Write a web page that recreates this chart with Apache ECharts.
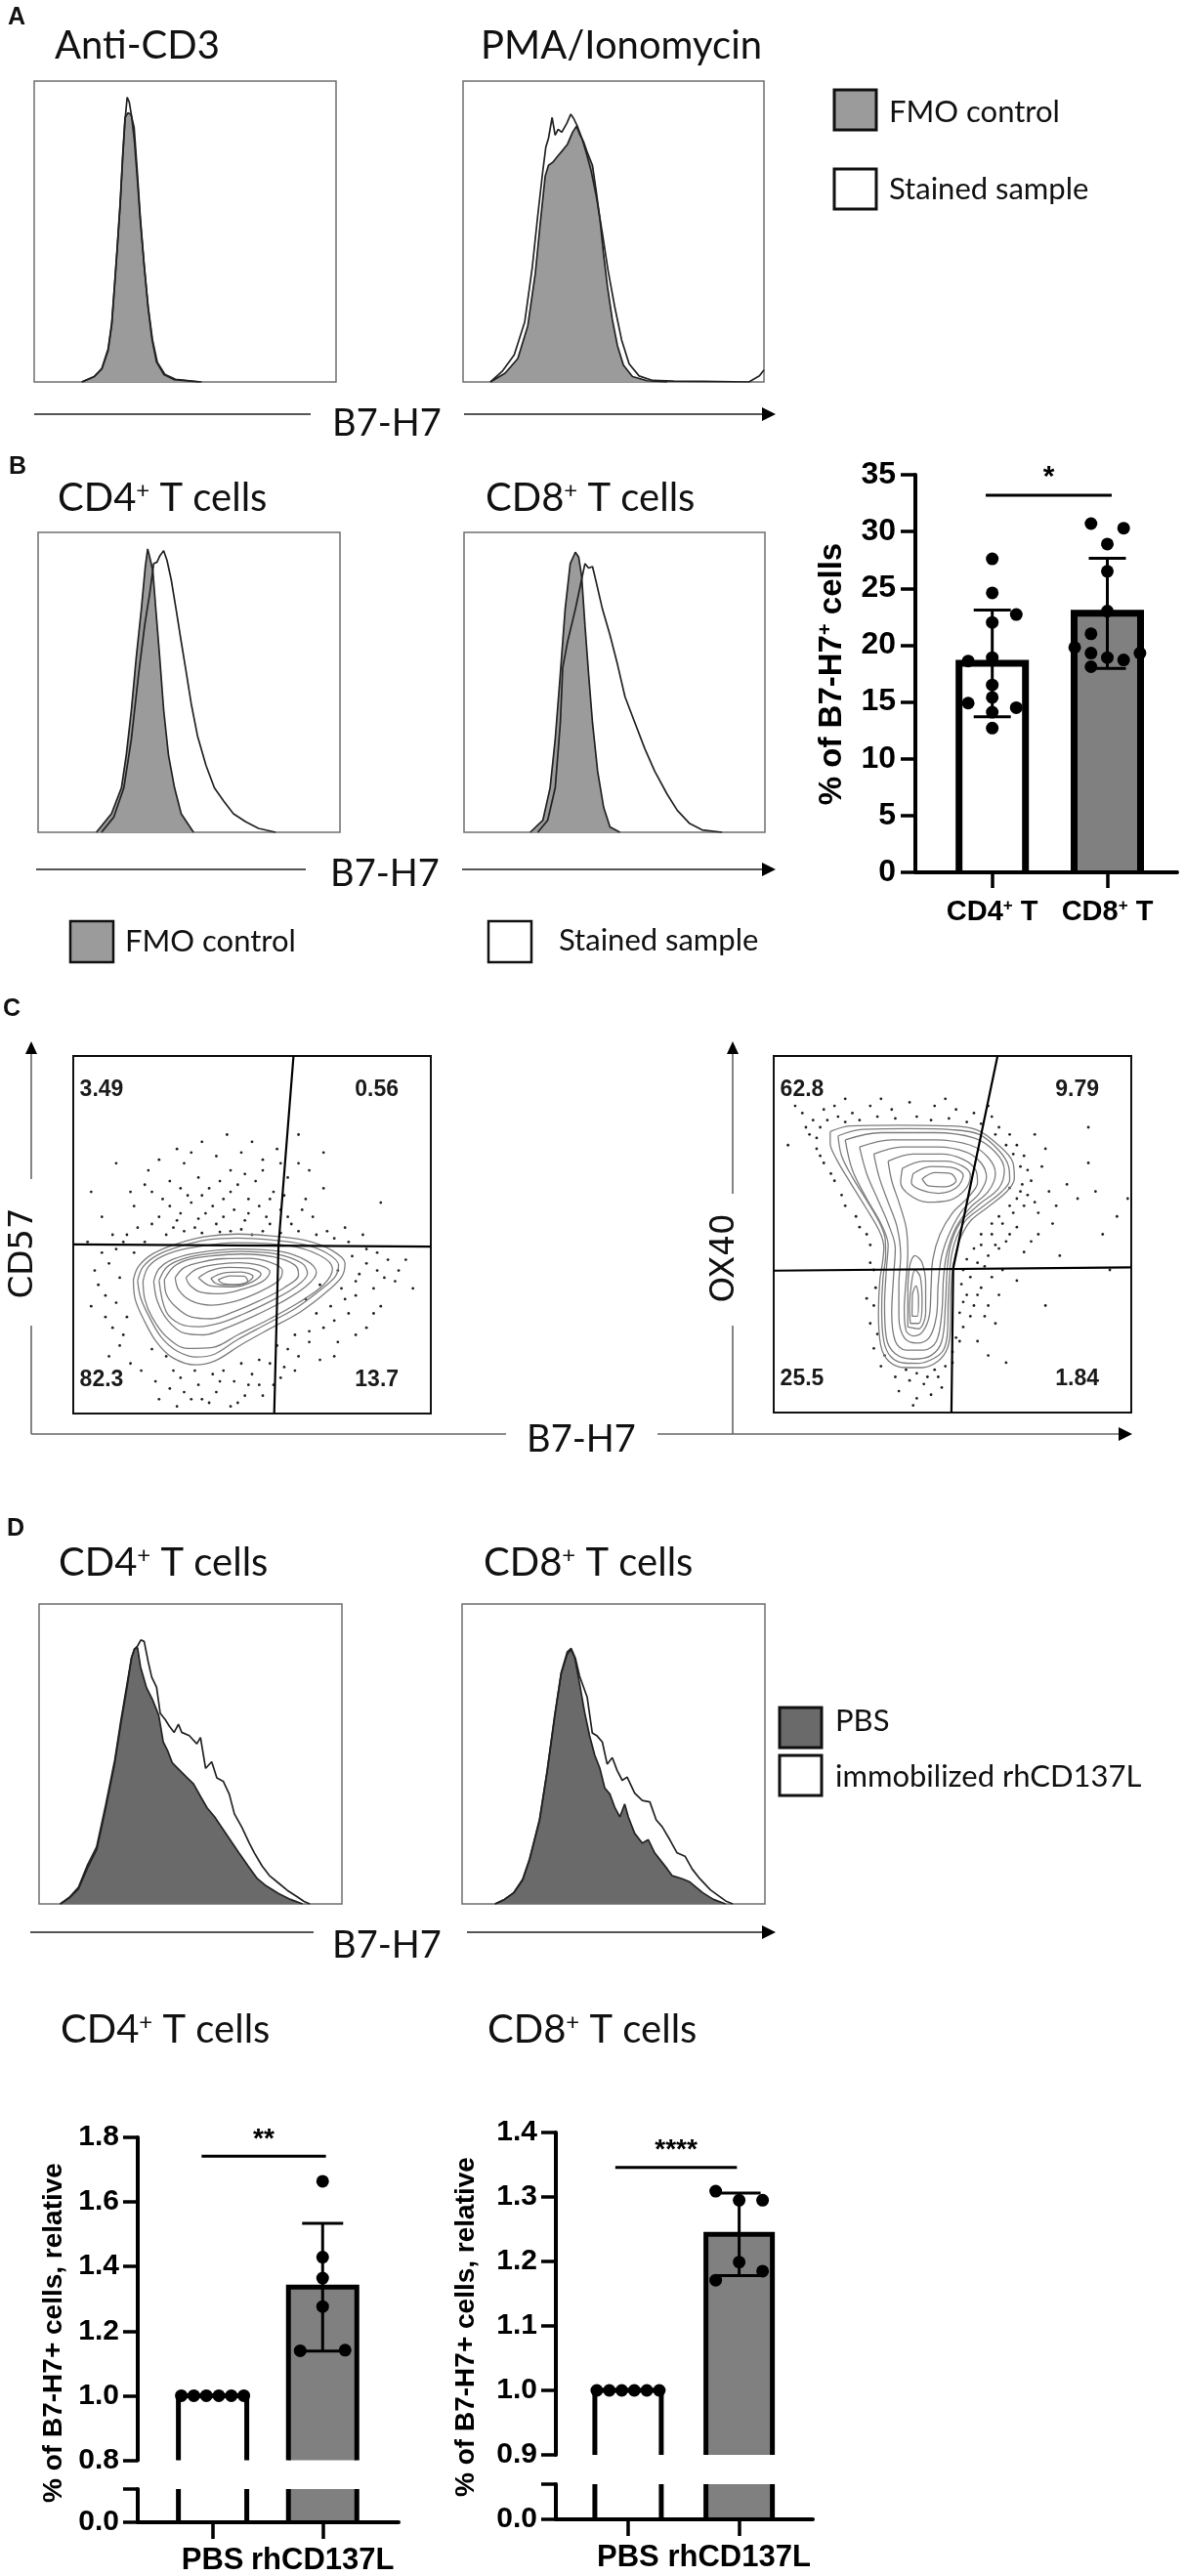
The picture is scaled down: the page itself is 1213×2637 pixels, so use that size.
<!DOCTYPE html>
<html><head><meta charset="utf-8">
<script src="https://cdn.jsdelivr.net/npm/echarts@6/dist/echarts.min.js"></script>
<style>html,body{margin:0;padding:0;background:#fff}#c{width:1213px;height:2637px}</style>
</head><body><div id="c"></div>
<script>
// ===================== DATA =====================
// Panel A histograms (x: B7-H7 channel, 0-100 ; y: % of max)
const a1FmoX = [15.8,19.9,22.4,24.5,25.7,26.5,27.5,28.5,29.3,30.1,31.1,32.1,33.1,34.1,35.1,36.4,37.7,39.0,40.5,43.0,46.3,54.6];
const a1FmoY = [0,1.8,4.5,11,19.7,30.5,44.6,59.7,74.9,87.9,89.5,88.8,84.6,70.6,55.4,39.2,25.1,14.3,6.7,2.4,0.8,0];
const a1StX = [15.8,19.9,22.4,24.5,25.7,26.5,27.5,28.5,29.3,30.1,30.8,31.5,32.3,33.2,34.2,35.2,36.5,37.8,39.2,40.8,43.3,46.8,55.5];
const a1StY = [0,1.8,4.3,10.5,19,30,44,59,74,87,94.6,93,88,80,67,53,38,24.5,14,6.5,2.5,0.9,0];
const a2FmoX = [9.1,14.0,18.2,21.5,24.0,25.6,27.3,28.4,29.8,31.4,33.1,34.7,36.4,37.7,38.9,40.0,41.4,43.0,44.3,45.5,46.7,48.0,49.6,51.3,53.3,56.3,61.2,67.9];
const a2FmoY = [0,2.9,7.8,18.6,35.9,52.2,68.4,72,73,75,77,79,83,85,82,80,76,72,63,54,42.4,31.6,20.8,12.1,5.6,1.8,0.4,0];
const a2StX = [9.1,13.0,17.0,20.5,23.0,24.8,26.5,27.5,28.4,29.6,30.6,31.6,32.8,34.5,35.8,36.8,38.0,39.5,41.0,42.6,44.4,46.2,48.2,50.4,52.7,55.2,58.5,63,70,80,95,98.5,100];
const a2StY = [0,3.5,9,20,38,55,70,78,81,87.9,82,84,83,86,89,87.5,85,81,76,70,61,50,37,25,14,6,2,0.5,0.3,0.2,0,2,4];
// Panel B histograms
const b1FmoX = [19.3,24.3,27.6,29.2,30.9,32.5,34.2,35.5,36.3,37.1,38.0,39.0,40.3,41.6,43.2,45.2,47.4,51.5];
const b1FmoY = [0,6.2,14.8,25.7,40.8,58.2,74.4,88.5,94.5,91.2,87.4,74.4,58.2,40.8,25.7,14.8,6.2,0];
const b1StX = [21.0,25.1,28.4,30.9,33.3,35.3,37.0,38.3,39.4,40.4,41.6,42.7,44.1,45.7,47.4,49.0,50.7,52.8,55.6,58.4,61.4,64.7,68.8,73.0,78.7];
const b1StY = [0,5.1,14.8,31.1,52.8,69.0,79.8,89.6,90.1,92.3,93.9,90.7,84.2,74.4,63.6,53.8,43.0,32.2,22.4,14.8,10.5,6.2,3.5,1.3,0];
const b2FmoX = [22.0,26.2,28.6,30.3,32.0,33.6,35.3,37.0,38.1,39.1,40.2,41.4,42.7,44.4,46.4,48.5,51.8];
const b2FmoY = [0,4.0,14.8,31.1,52.8,74.4,89.6,93.4,91.8,85.3,69.0,52.8,36.5,20.3,8.3,1.8,0];
const b2StX = [24.5,27.8,30.3,32.0,32.8,34.4,37.0,38.6,40.2,41.4,42.7,44.0,46.0,48.5,51.0,53.5,56.8,60.1,63.4,67.5,70.9,75.0,79.1,85.8];
const b2StY = [0,4.0,14.8,36.5,54.9,63.5,74.4,82.0,89.6,88.1,88.6,83.1,74.4,65.8,56.0,45.2,36.5,27.8,20.3,12.7,7.3,2.9,0.8,0];
// Panel D histograms
const d1PbsX = [7,10,13,16,19,22,25,27,29,30.5,31.5,32.5,33.5,35.5,37.5,39.5,41,42.5,44,46,49,51,53.5,55.5,58,60,63,66,69,72,75,79,83,87];
const d1PbsY = [0,2,5,12,18,32,47,60,72,82,85,85.5,79,72,68,63,54,51,47,45,42,40,35.5,32,29,26,21.5,17,12.7,8.5,6,3.5,1.5,0];
const d1RhX = [7,10,13,16,19,22,25,27,29,30.5,31.5,32.5,33.6,34.7,36.0,37.2,38.8,40.0,41.7,43.0,44.6,46.0,47.1,49.6,52.1,53.3,55.0,57.0,58.7,60.8,62.8,64.5,66.9,69.4,71.1,73.6,76.0,79,82,85,87.5,89.4];
const d1RhY = [0,2.2,5.5,13,19,33,48,61,73,82,85,86,88,87.5,80.9,75.6,72.3,63.6,61.4,59.3,57.2,59.9,57.2,56.1,53.4,55.5,45.2,47.4,42.0,40.9,36.6,30.0,25.7,20.3,17.0,12.7,9.5,7,4.5,2.5,0.8,0];
const d2PbsX = [10.9,14,17.1,20,22.3,25.6,28.1,30.6,32.7,34.7,36.0,37.2,38.8,40.5,42.1,43.8,45.5,47.1,48.8,50.4,52.1,53.7,54.9,57.0,59.5,61.5,63.6,66.1,67.8,69.4,72.7,75.2,79.5,83,87];
const d2PbsY = [0,1.5,3.7,8,14.9,27.9,44.1,62.6,76.7,83.2,84.8,82.1,73.5,63.7,56.1,49.6,45.2,38.7,36.6,32.2,29.0,33.3,29.0,23.5,20.3,21.4,17.0,13.8,11.6,9.4,8.4,7.3,3.7,1.5,0];
const d2RhX = [10.9,14,17.1,20,22.3,25.6,28.1,30.6,32.7,34.7,36.0,37.4,38.8,41.3,43,44.6,46.3,47.9,49.6,51.2,52.9,54.5,57,59.5,62,64.1,66.1,68.6,71,73.6,76,78.5,82,85,87,89.4];
const d2RhY = [0,1.5,3.8,8.2,15,28.3,44.5,63,77,84,85.2,82,76,69,57,56,54,46.6,48.8,44.5,41.2,42.3,36.9,34.5,34,28,25.7,21.4,17,15.9,11.6,8.4,4.7,2.5,1,0];

// Panel B bar chart (% of B7-H7+ cells)
const barCatsB = ['CD4', 'CD8'];
const meanB = [18.4, 22.8];
const sdB = [4.7, 4.85];
const cd4Dots = [27.6,24.6,22.7,22.0,18.6,18.9,16.5,15.4,14.9,14.5,14.1,12.7];
const cd4Slot = [0,0,1,0,-1,0,0,0,-1,1,0,0];
const cd8Dots = [30.7,30.3,28.9,26.5,23.0,21.0,19.8,19.3,19.3,18.9,18.7,18.1];
const cd8Slot = [-1,1,0,0,0,-1,-2,-1,2,0,1,-1];
const yTicksB = [0, 35, 5];

// Panel C quadrant percentages (UL, UR, LL, LR)
const quadC1 = ['3.49', '0.56', '82.3', '13.7'];
const quadC2 = ['62.8', '9.79', '25.5', '1.84'];
// Quadrant gates (x,y in plot units 0-100)
const gateC1H = [[0,47.3],[100,46.7]];
const gateC1V = [[61.6,100],[57.4,47],[56.2,0]];
const gateC2H = [[0,39.8],[100,40.7]];
const gateC2V = [[62.6,100],[50.2,40.5],[49.7,0]];
// Contour rings, CD57 vs B7-H7
const c1Ring1 = [[16.8,37.4],[18.2,41.1],[22.3,44.7],[28.7,47.4],[36.9,49.5],[46.0,50.2],[55.1,49.7],[65.1,48.4],[72.4,45.6],[76.0,42.0],[75.1,38.3],[70.6,33.8],[63.3,28.3],[55.1,23.8],[46.9,19.2],[39.6,14.7],[34.2,13.6],[27.8,15.6],[23.2,20.1],[19.6,26.5],[17.3,32.0]];
const c1Ring1b = [[18,37.2],[19.5,41],[23.5,44.3],[30,46.8],[37.5,48.6],[46,49.1],[55,48.6],[64.5,47.3],[71,44.8],[74.2,41.5],[73.2,38.2],[68.8,34.3],[62,29.3],[54,25],[46,20.7],[39.5,16.6],[34.5,15.8],[29,17.5],[24.5,21.5],[21,27.5],[18.8,32.5]];
const c1Ring2 = [[19.5,37],[21,41],[25,44],[32,46.2],[46,47.8],[60,47],[69,44.2],[72.5,40.5],[70,36],[63,31],[55,26.5],[46,22],[39,18.5],[32,18.2],[26,21.5],[22,27],[20,32]];
const c1Ring3 = [[22.5,37],[24,40.5],[28,43.2],[35,45],[46,46],[58,45.3],[65.5,42.6],[68,39.5],[65,35.5],[58,31],[50,27],[43,24],[36.5,22],[31,22.5],[26.5,26],[23.5,31.5]];
const c1Ring3b = [[24,37.2],[26,40.8],[30,43],[36.5,44.5],[46.5,45.3],[57,44.6],[64,42],[65.5,39.2],[62,35.3],[55,31.3],[47.5,27.8],[41,25.3],[35,24.3],[30,25],[26,28.5]];
const c1Ring4 = [[25.5,37.5],[28,41],[32,43],[38,44],[47,44.6],[56,43.8],[62,41.5],[63,38.8],[59,35.2],[52,31.5],[45,28.5],[38.5,26.5],[33,27],[28.5,30],[26,33.5]];
const c1Ring5 = [[28.5,38],[31,40.8],[36,42.4],[42,43.3],[49,43.4],[55,42.3],[58.5,40],[57.5,37.2],[52,34],[45,31.3],[38.5,30.3],[33,31.5],[29.5,34.5]];
const c1Ring6 = [[31.5,38],[34.5,40.4],[40,41.7],[46,42.2],[52,41.5],[55,39.6],[53,37],[47,34.7],[41,33.5],[35.5,34],[32.5,36]];
const c1Ring7 = [[35,38],[38.5,40],[43.5,40.9],[49,40.7],[52.5,39],[50,36.8],[44.5,35.4],[38.5,35.7]];
const c1Ring8 = [[38.5,37.8],[42,39.3],[47,39.6],[50.3,38.3],[48,36.4],[43,35.8],[39.8,36.4]];
const c1Ring9 = [[40.5,37.4],[44,38.5],[47.8,38.4],[48.8,37.1],[45.5,36.1],[41.8,36.4]];
// Contour rings, OX40 vs B7-H7
const c2Ring1 = [[15.8,78.8],[21.3,80.4],[34.9,80.6],[48.6,80.4],[56.8,79.3],[63.2,74.7],[66.9,70.1],[67.3,65.6],[65.1,61.9],[59.6,57.4],[55.0,53.7],[52.3,49.1],[50.9,44.6],[50.0,40.0],[49.5,32.7],[49.4,23.6],[48.6,18.1],[45.9,14.4],[41.3,12.6],[36.8,12.6],[32.2,14.4],[29.9,19.0],[29.3,28.1],[29.7,37.3],[30.4,41.8],[30.8,46.4],[29.5,51.0],[25.8,57.4],[21.3,64.7],[17.6,71.0],[15.8,75.6]];
const c2Ring1b = [[18,77.6],[25,79.4],[38,79.6],[50,79.3],[57.5,78],[63,73.5],[65.7,69],[66,65.2],[63.8,62],[58.5,57.8],[53.8,54],[51.2,49.3],[49.8,44.5],[49.2,39],[48.8,31],[48.6,22.5],[47.5,17.6],[44.8,15.2],[40.5,13.8],[36.5,13.9],[32.8,15.6],[30.8,20],[30.2,29],[30.6,38],[31.3,44],[31.2,48.5],[29.7,53],[26,59.5],[22,66],[19,72]];
const c2Ring2 = [[20,76.5],[30,78.5],[45,78.5],[56,77],[62,73],[64.5,68],[63,63],[57,58],[52,53],[49.5,47],[48.5,40],[48,30],[47,20],[44,16],[39,15],[34,16.5],[31.5,21],[31,30],[31.5,40],[32,47],[30,53],[26,60],[22,68]];
const c2Ring3 = [[24,74.5],[33,76.5],[45,76.5],[55,75],[60,71.5],[62,67],[60,62],[55,57.5],[51,52],[48.5,45],[47.5,38],[47,28],[45.5,20],[42,17.5],[37,17.5],[34,20],[33,28],[33.5,38],[34,46],[32,53],[29,60],[26,67]];
const c2Ring4 = [[28,72.5],[36,74.5],[46,74.5],[54,73],[58,70],[59.5,66],[57.5,61.5],[53,57],[49.5,51],[47,44],[46,36],[45.5,27],[43.5,21],[40,19.5],[36.5,21],[35,27],[35,36],[35.5,44],[34.5,52],[32,59],[29.5,66]];
const c2Ring5 = [[32,70.5],[39,72.5],[47,72.5],[53,71],[56.5,68],[57,64.5],[54.5,60.5],[50,56],[46.5,50],[44.5,43],[44,35],[43.5,27],[41.5,22.5],[39,21.5],[37,23],[36.5,29],[37,37],[37.5,45],[37,52],[35,59],[33,65]];
const c2Ring6a = [[36,68.5],[42,70.5],[48,70.5],[53,69],[55,66.5],[53.5,62.5],[49,59.5],[43,59],[38,61],[35.5,64.5]];
const c2Ring6b = [[37.5,24],[40.5,23.5],[42.5,28],[42.5,36],[41.5,42],[39.5,44],[38,41],[37.5,33]];
const c2Ring7a = [[39,67],[44,69],[49.5,68.8],[53,66.5],[51,63],[46,61.5],[41,62.5],[38.5,64.5]];
const c2Ring7b = [[38.2,25],[40.5,25],[41.5,31],[41,38],[39.5,40],[38.5,36],[38,30]];
const c2Ring8a = [[41.5,65.5],[45,67.3],[49.5,67],[51,65],[48,63.3],[43.5,63.5]];
const c2Ring8b = [[38.7,27],[40.2,27],[40.5,32],[39.8,35.5],[38.8,33]];
// Outlying events (dots)
const c1Dots = [[36,76],[29,74],[24,71],[31,70],[40,72],[47,73],[53,71],[57,74],[44,68],[35,66],[27,65],[20,64],[38,63],[46,64],[51,65],[56,62],[60,66],[63,70],[65,60],[42,60],[33,59],[25,60],[17,58],[30,56],[37,56],[45,57],[52,58],[58,57],[48,54],[40,53],[34,52],[28,52],[22,53],[55,53],[61,53],[67,55],[71,51],[44,51],[15,50],[50,50],[76,52],[86,59],[70,73],[63,78],[5,62],[12,70],[78,44],[82,42],[80,39],[85,40],[88,43],[75,35],[79,33],[84,35],[72,30],[77,28],[70,24],[74,20],[66,20],[69,15],[82,24],[86,30],[90,37],[93,43],[10,42],[13,38],[7,36],[12,31],[9,27],[15,27],[5,30],[14,22],[10,16],[17,45],[12,46],[30,10],[35,8],[40,6],[45,9],[50,11],[55,14],[38,3],[44,2],[33,4],[28,12],[48,5],[52,8],[58,10],[60,18],[42,12],[26,16],[22,18],[62,12],
  [26,50],[31,51],[36,50.5],[41,50.8],[47,51.5],[53,51],[58,50.5],[63,51],[68,50],[73,49],[24,55],[29,54],[35,54.5],[42,55],[49,56],[54,55],[60,55],[64,57],[27,58],[32,61],[39,58],[44,62],[49,60],[55,60],[59,61],[36,61],[30,63],[41,65],[48,67],[53,68],[22,62],[18,52],[20,48],[14,48],[11,50],[8,45],[6,40],[9,33],[11,24],[13,19],[16,14],[19,12],[23,9],[27,7],[31,6],[36,4],[41,9],[46,3],[49,8],[53,5],[56,8],[59,13],[63,16],[66,23],[68,28],[73,26],[76,32],[79,37],[82,46],[85,45],[87,38],[91,40],[84,28],[79,22],[73,16],[24,4],[29,2],[34,12],[39,11],[47,14],[52,15],[57,19],[62,22],[65,32],[69,36],[74,40],[77,48],[81,50],[8,55],[4,48],[95,35],[70,63],[66,68],[58,70],[50,76],[43,78],[33,73],[21,68],[16,62]];
const c2Dots = [[8,84],[11,82],[13,80],[10,78],[14,85],[18,83],[22,84],[27,86],[33,85],[38,87],[45,86],[51,85],[56,84],[61,83],[63,80],[66,78],[68,75],[70,72],[71,68],[72,65],[69,62],[70,58],[67,56],[64,53],[66,50],[61,50],[58,47],[60,44],[63,46],[57,42],[55,38],[58,35],[54,33],[56,30],[52,28],[60,30],[64,40],[75,69],[77,62],[74,56],[78,53],[85,60],[88,70],[92,50],[96,55],[99,60],[80,44],[52,20],[50,14],[46,10],[42,8],[38,9],[34,10],[44,5],[40,4],[30,13],[28,18],[27,25],[26,32],[28,40],[27,47],[24,52],[20,58],[17,65],[14,70],[12,74],[68,37],[62,25],[60,16],[72,48],[76,30],
  [9,80],[12,77],[15,82],[17,86],[20,81.5],[24,82],[29,83],[34,82.5],[40,83],[44,82],[49,82.5],[54,81.5],[58,81],[62,78],[65,75],[67,72.5],[69,69],[69.5,64],[68,60],[66,58],[63,55],[61,53],[58,50],[56,46],[54,43],[53,40],[52.5,36],[53,31],[55,27],[53,24],[51,21],[50,17],[48,13],[45,12],[43,10],[40,11],[37,12],[35,6],[39,2],[47,7],[31,16],[29,22],[28,30],[28.5,35],[27,42],[26,50],[23,55],[19,61],[16,67],[13,72],[66,63],[71,61],[73,59],[68,52],[65,48],[62,47],[59,41],[61,38],[57,33],[63,33],[59,27],[70,45],[74,50],[79,58],[82,64],[76,74],[73,78],[60,86],[48,88],[30,88],[20,88],[6,86],[4,75],[90,62],[94,40],[88,80],[57,20],[65,14]];

// Panel D bar charts (relative % of B7-H7+ cells)
const catsD = ['PBS', 'rhCD137L'];
const d1Means = [1.0, 1.336];
const d1Sd = [0, 0.198];
const d1PbsDots = [1,1,1,1,1,1];
const d1RhDots = [1.664,1.429,1.364,1.276,1.139,1.141];
const d1RhSlot = [0,0,0,0,-1,1];
const d2Means = [1.0, 1.242];
const d2Sd = [0, 0.064];
const d2PbsDots = [1,1,1,1,1,1];
const d2RhDots = [1.309,1.295,1.295,1.199,1.185,1.171];
const d2RhSlot = [-1,0,1,0,1,-1];
const pbsSlot = [-2.5,-1.5,-0.5,0.5,1.5,2.5];

// ===================== LAYOUT / STYLE =====================
const LATO = 'Lato, "Open Sans", sans-serif';
const ARIAL = '"Liberation Sans", Arial, sans-serif';
const grids = [
  {left:35, top:83, width:309, height:308},    //0 A1
  {left:474, top:83, width:308, height:308},   //1 A2
  {left:39, top:545, width:309, height:307},   //2 B1
  {left:475, top:545, width:308, height:307},  //3 B2
  {left:937, top:486, width:268, height:407},  //4 B bar
  {left:75, top:1081, width:366, height:366},  //5 C1
  {left:792, top:1081, width:366, height:365}, //6 C2
  {left:40, top:1642, width:310, height:307},  //7 D1 hist
  {left:473, top:1642, width:310, height:307}, //8 D2 hist
  {left:141, top:2188, width:267, height:330.5}, //9 D1 upper
  {left:141, top:2548, width:267, height:37},    //10 D1 lower
  {left:569, top:2183, width:263, height:330},   //11 D2 upper
  {left:569, top:2543, width:263, height:36}     //12 D2 lower
];
const gridOpts = grids.map((g, i) => {
  const o = Object.assign({containLabel:false}, g);
  if (i <= 3 || i === 7 || i === 8) { o.show = true; o.borderColor = '#6f6f6f'; o.borderWidth = 1.5; }
  else if (i === 5 || i === 6) { o.show = true; o.borderColor = '#111'; o.borderWidth = 2; }
  return o;
});
const xAxes = [], yAxes = [];
function plainAxes(gi, xmin, xmax, ymin, ymax) {
  xAxes.push({gridIndex:gi, type:'value', min:xmin, max:xmax, show:false});
  yAxes.push({gridIndex:gi, type:'value', min:ymin, max:ymax, show:false});
}
[0,1,2,3].forEach(i => plainAxes(i, 0, 100, 0, 100));
// 4: B bar chart
const bXmin = 0.332, bXmax = 2.607;
xAxes.push({gridIndex:4, type:'value', min:bXmin, max:bXmax, z:10,
  axisLine:{show:true, lineStyle:{color:'#000', width:4}},
  axisTick:{show:true, customValues:[1,2], length:16, lineStyle:{color:'#000', width:3.5}},
  axisLabel:{show:true, customValues:[1,2], margin:26, color:'#000',
    formatter: v => '{b|' + barCatsB[Math.round(v)-1] + '}{s|+}{b| T}',
    rich:{b:{fontSize:29, fontWeight:'bold', fontFamily:ARIAL, color:'#000'}, s:{fontSize:17, fontWeight:'bold', fontFamily:ARIAL, color:'#000', verticalAlign:'top'}}},
  splitLine:{show:false}});
yAxes.push({gridIndex:4, type:'value', min:yTicksB[0], max:yTicksB[1], interval:yTicksB[2], z:10,
  axisLine:{show:true, lineStyle:{color:'#000', width:4}},
  axisTick:{show:true, length:15, lineStyle:{color:'#000', width:3.5}},
  axisLabel:{show:true, margin:20, fontSize:32, fontWeight:'bold', fontFamily:ARIAL, color:'#000'},
  splitLine:{show:false}});
[5,6,7,8].forEach(i => plainAxes(i, 0, 100, 0, 100));
// D bar charts
function dAxes(giU, giL, xmin, xmax, ymin, ymax, yint, lowMax) {
  xAxes.push({gridIndex:giU, type:'value', min:xmin, max:xmax, show:false});
  yAxes.push({gridIndex:giU, type:'value', min:ymin, max:ymax, interval:yint, z:10,
    axisLine:{show:true, lineStyle:{color:'#000', width:4}},
    axisTick:{show:true, length:15, lineStyle:{color:'#000', width:3.5}},
    axisLabel:{show:true, margin:19, fontSize:30, fontWeight:'bold', fontFamily:ARIAL, color:'#000', formatter: v => v.toFixed(1)},
    splitLine:{show:false}});
  xAxes.push({gridIndex:giL, type:'value', min:xmin, max:xmax, z:10,
    axisLine:{show:true, lineStyle:{color:'#000', width:4}},
    axisTick:{show:true, customValues:[1,2], length:17, lineStyle:{color:'#000', width:3.5}},
    axisLabel:{show:true, customValues:[1,2], margin:24, fontSize:31, fontWeight:'bold', fontFamily:ARIAL, color:'#000',
      formatter: v => catsD[Math.round(v)-1]},
    splitLine:{show:false}});
  yAxes.push({gridIndex:giL, type:'value', min:0, max:lowMax, z:10,
    axisLine:{show:true, lineStyle:{color:'#000', width:4}},
    axisTick:{show:true, customValues:[0, lowMax], length:15, lineStyle:{color:'#000', width:3.5}},
    axisLabel:{show:true, customValues:[0], margin:19, fontSize:30, fontWeight:'bold', fontFamily:ARIAL, color:'#000', formatter: () => '0.0'},
    splitLine:{show:false}});
}
const d1Xmin = 0.32, d1Xmax = 2.69, d2Xmin = 0.35, d2Xmax = 2.663;
dAxes(9, 10, d1Xmin, d1Xmax, 0.8, 1.8, 0.2, 0.11);
dAxes(11, 12, d2Xmin, d2Xmax, 0.9, 1.4, 0.1, 0.11);

// ===================== SERIES =====================
const series = [];
const zip = (xs, ys) => xs.map((x, i) => [x, ys[i]]);
function hist(gi, xs, ys, fill, z) {
  const s = {type:'line', xAxisIndex:gi, yAxisIndex:gi, data:zip(xs, ys), symbol:'none', silent:true, z:z,
    lineStyle:{color:'#222', width:1.7}};
  if (fill) s.areaStyle = {color:fill, opacity:1, origin:'start'};
  series.push(s);
}
const GREY = '#9b9b9b', DARK = '#6a6a6a';
hist(0, a1FmoX, a1FmoY, GREY, 2); hist(0, a1StX, a1StY, null, 3);
hist(1, a2FmoX, a2FmoY, GREY, 2); hist(1, a2StX, a2StY, null, 3);
hist(2, b1FmoX, b1FmoY, GREY, 2); hist(2, b1StX, b1StY, null, 3);
hist(3, b2FmoX, b2FmoY, GREY, 2); hist(3, b2StX, b2StY, null, 3);
hist(7, d1PbsX, d1PbsY, DARK, 2); hist(7, d1RhX, d1RhY, null, 3);
hist(8, d2PbsX, d2PbsY, DARK, 2); hist(8, d2RhX, d2RhY, null, 3);

// Bars (custom, so clipped broken-axis bars stay open at the break)
function bars(gi, means, fills, halfW, lw) {
  series.push({type:'custom', xAxisIndex:gi, yAxisIndex:gi, silent:true, z:3,
    data: means.map((m, i) => [i + 1, m, i]),
    renderItem(params, api) {
      const cs = params.coordSys;
      const i = api.value(2);
      const p = api.coord([api.value(0), api.value(1)]);
      const bottom = cs.y + cs.height;
      if (p[1] >= bottom) return null;
      const top = Math.max(p[1], cs.y);
      const L = p[0] - halfW, R = p[0] + halfW;
      const ch = [{type:'rect', shape:{x:L, y:top, width:R - L, height:bottom - top}, style:{fill:fills[i]}}];
      if (p[1] >= cs.y - 0.5) {
        ch.push({type:'polyline', shape:{points:[[L, bottom], [L, top], [R, top], [R, bottom]]}, style:{stroke:'#000', lineWidth:lw, fill:null, lineJoin:'miter'}});
      } else {
        ch.push({type:'line', shape:{x1:L, y1:bottom, x2:L, y2:top}, style:{stroke:'#000', lineWidth:lw}});
        ch.push({type:'line', shape:{x1:R, y1:bottom, x2:R, y2:top}, style:{stroke:'#000', lineWidth:lw}});
      }
      return {type:'group', children:ch};
    }});
}
function errs(gi, means, sds, capHalf) {
  series.push({type:'custom', xAxisIndex:gi, yAxisIndex:gi, silent:true, z:4,
    data: means.map((m, i) => [i + 1, m, sds[i]]).filter(d => d[2] > 0),
    renderItem(params, api) {
      const x = api.value(0), m = api.value(1), s = api.value(2);
      const a = api.coord([x, m + s]), b = api.coord([x, m - s]);
      const st = {stroke:'#000', lineWidth:3};
      return {type:'group', children:[
        {type:'line', shape:{x1:a[0], y1:a[1], x2:b[0], y2:b[1]}, style:st},
        {type:'line', shape:{x1:a[0] - capHalf, y1:a[1], x2:a[0] + capHalf, y2:a[1]}, style:st},
        {type:'line', shape:{x1:b[0] - capHalf, y1:b[1], x2:b[0] + capHalf, y2:b[1]}, style:st}]};
    }});
}
function dots(gi, xc, vals, slots, stepPx, pxPerUnit, size) {
  series.push({type:'scatter', xAxisIndex:gi, yAxisIndex:gi, silent:true, z:5, symbolSize:size,
    itemStyle:{color:'#000', opacity:1},
    data: vals.map((v, i) => [xc + slots[i] * stepPx / pxPerUnit, v])});
}
function sig(gi, x1, x2, y, text, fs) {
  series.push({type:'custom', xAxisIndex:gi, yAxisIndex:gi, silent:true, z:5, data:[[x1, x2, y]],
    renderItem(params, api) {
      const a = api.coord([api.value(0), api.value(2)]), b = api.coord([api.value(1), api.value(2)]);
      return {type:'group', children:[
        {type:'line', shape:{x1:a[0], y1:a[1], x2:b[0], y2:b[1]}, style:{stroke:'#000', lineWidth:3}},
        {type:'text', x:(a[0] + b[0]) / 2, y:a[1] - 3, style:{text:text, align:'center', verticalAlign:'bottom', font:'bold ' + fs + 'px ' + ARIAL, fill:'#000'}}]};
    }});
}
// Panel B bars
const bPx = grids[4].width / (bXmax - bXmin);
bars(4, meanB, ['#ffffff', '#808080'], 34, 7);
errs(4, meanB, sdB, 19);
dots(4, 1, cd4Dots, cd4Slot, 24.6, bPx, 13);
dots(4, 2, cd8Dots, cd8Slot, 16.7, bPx, 13);
sig(4, 0.943, 2.038, 33.2, '*', 30);
// Panel D bars
const d1Px = grids[9].width / (d1Xmax - d1Xmin);
const d2Px = grids[11].width / (d2Xmax - d2Xmin);
[9, 10].forEach(g => bars(g, d1Means, ['#ffffff', '#808080'], 35, 5));
[11, 12].forEach(g => bars(g, d2Means, ['#ffffff', '#808080'], 34, 5));
errs(9, d1Means, d1Sd, 21);
errs(11, d2Means, d2Sd, 22);
dots(9, 1, d1PbsDots, pbsSlot, 12.8, d1Px, 13);
dots(9, 2, d1RhDots, d1RhSlot, 23, d1Px, 13);
dots(11, 1, d2PbsDots, pbsSlot, 12.8, d2Px, 13);
dots(11, 2, d2RhDots, d2RhSlot, 24, d2Px, 13);
sig(9, 0.90, 2.03, 1.742, '**', 28);
sig(11, 0.885, 1.98, 1.346, '****', 28);

// Panel C contour plots
function ring(gi, pts, color) {
  series.push({type:'line', xAxisIndex:gi, yAxisIndex:gi, silent:true, z:3, symbol:'none', smooth:0.35,
    data: pts.concat([pts[0]]), lineStyle:{color:color, width:1.3}});
}
function gate(gi, pts) {
  series.push({type:'line', xAxisIndex:gi, yAxisIndex:gi, silent:true, z:6, symbol:'none',
    data: pts, lineStyle:{color:'#000', width:2.2}});
}
function events(gi, pts) {
  series.push({type:'scatter', xAxisIndex:gi, yAxisIndex:gi, silent:true, z:2, symbolSize:2.8,
    itemStyle:{color:'#222', opacity:1}, data: pts});
}
events(5, c1Dots);
[c1Ring1, c1Ring1b, c1Ring2, c1Ring3, c1Ring3b, c1Ring4, c1Ring5, c1Ring6, c1Ring7, c1Ring8, c1Ring9].forEach(r => ring(5, r, '#7d7d7d'));
gate(5, gateC1H); gate(5, gateC1V);
events(6, c2Dots);
[c2Ring1, c2Ring1b, c2Ring2, c2Ring3, c2Ring4, c2Ring5, c2Ring6a, c2Ring6b, c2Ring7a, c2Ring7b, c2Ring8a, c2Ring8b].forEach(r => ring(6, r, '#7d7d7d'));
gate(6, gateC2H); gate(6, gateC2V);
const QPOS = [[1.8, 90.6, 'left'], [91, 90.6, 'right'], [1.8, 9.4, 'left'], [91, 9.4, 'right']];
function quads(gi, labels) {
  series.push({type:'custom', xAxisIndex:gi, yAxisIndex:gi, silent:true, z:8,
    data: QPOS.map((q, i) => [q[0], q[1], i]),
    renderItem(params, api) {
      const i = api.value(2);
      const p = api.coord([api.value(0), api.value(1)]);
      return {type:'text', x:p[0], y:p[1], style:{text:labels[i], align:QPOS[i][2], verticalAlign:'middle', font:'bold 23px ' + ARIAL, fill:'#1a1a1a'}};
    }});
}
quads(5, quadC1); quads(6, quadC2);

// ===================== GRAPHIC (titles, legends, axis arrows) =====================
const gfx = [];
function txt(x, y, text, font, extra) {
  gfx.push(Object.assign({type:'text', x:x, y:y, silent:true, z:20,
    style:{text:text, font:font, fill:'#111', align:'left', verticalAlign:'middle'}}, extra || {}));
}
function richTitle(x, y, main, rest) {
  gfx.push({type:'text', x:x, y:y, silent:true, z:20, style:{
    text:'{m|' + main + '}{s|+}{m|' + rest + '}', align:'left', verticalAlign:'middle', fill:'#111',
    rich:{m:{fontSize:40, fontFamily:LATO, fill:'#111', color:'#111'}, s:{fontSize:24, fontFamily:LATO, fill:'#111', color:'#111', verticalAlign:'top'}}}});
}
function hline(x1, x2, y, color, w) { gfx.push({type:'line', silent:true, z:20, shape:{x1:x1, y1:y, x2:x2, y2:y}, style:{stroke:color, lineWidth:w}}); }
function vline(x, y1, y2, color, w) { gfx.push({type:'line', silent:true, z:20, shape:{x1:x, y1:y1, x2:x, y2:y2}, style:{stroke:color, lineWidth:w}}); }
function headR(x, y) { gfx.push({type:'polygon', silent:true, z:21, shape:{points:[[x - 14, y - 7], [x, y], [x - 14, y + 7]]}, style:{fill:'#000'}}); }
function headU(x, y) { gfx.push({type:'polygon', silent:true, z:21, shape:{points:[[x - 6, y + 13], [x, y], [x + 6, y + 13]]}, style:{fill:'#000'}}); }
function box(x, y, w, h, fill, lw) { gfx.push({type:'rect', silent:true, z:20, shape:{x:x, y:y, width:w, height:h}, style:{fill:fill, stroke:'#111', lineWidth:lw}}); }

const LET = 'bold 25px ' + ARIAL;
txt(8, 18, 'A', LET); txt(9, 478, 'B', LET); txt(3, 1033, 'C', LET); txt(7, 1565, 'D', LET);
txt(56, 47, 'Anti-CD3', '40px ' + LATO);
txt(492, 47, 'PMA/Ionomycin', '40px ' + LATO);
richTitle(59, 510, 'CD4', ' T cells'); richTitle(497, 510, 'CD8', ' T cells');
richTitle(60, 1600, 'CD4', ' T cells'); richTitle(495, 1600, 'CD8', ' T cells');
richTitle(62, 2078, 'CD4', ' T cells'); richTitle(499, 2078, 'CD8', ' T cells');
// legends
box(854, 92, 43, 41, '#9b9b9b', 3); txt(910, 115, 'FMO control', '31px ' + LATO);
box(854, 173, 43, 41, '#ffffff', 3); txt(910, 194, 'Stained sample', '31px ' + LATO);
box(72, 943, 44, 42, '#9b9b9b', 2.5); txt(128, 964, 'FMO control', '31px ' + LATO);
box(500, 943, 44, 42, '#ffffff', 2.5); txt(572, 963, 'Stained sample', '31px ' + LATO);
box(798, 1748, 43, 41, '#6a6a6a', 3); txt(855, 1762, 'PBS', '31px ' + LATO);
box(798, 1797, 43, 41, '#ffffff', 3); txt(855, 1819, 'immobilized rhCD137L', '31px ' + LATO);
// B7-H7 axis arrows for histogram rows
function axisArrow(y, l1, l2, r1, r2, tipX, tx, ty) {
  hline(l1, l2, y, '#555', 2); hline(r1, r2, y, '#555', 2); headR(tipX, y);
  txt(tx, ty, 'B7-H7', '38px ' + LATO, {style:{text:'B7-H7', font:'38px ' + LATO, fill:'#111', align:'center', verticalAlign:'middle'}});
}
axisArrow(424, 35, 318, 475, 782, 794, 396, 434);
axisArrow(890, 37, 313, 473, 782, 794, 394, 895);
axisArrow(1978, 31, 321, 478, 782, 794, 396, 1992);
// Panel C axes
vline(32, 1468, 1357, '#666', 1.6); vline(32, 1207, 1078, '#666', 1.6); headU(32, 1066);
vline(750, 1468, 1357, '#666', 1.6); vline(750, 1222, 1078, '#666', 1.6); headU(750, 1066);
hline(32, 518, 1468, '#666', 1.6); hline(673, 1146, 1468, '#666', 1.6); headR(1159, 1468);
txt(595, 1474, 'B7-H7', '38px ' + LATO, {style:{text:'B7-H7', font:'38px ' + LATO, fill:'#111', align:'center', verticalAlign:'middle'}});
gfx.push({type:'text', x:24, y:1283, rotation:Math.PI / 2, silent:true, z:20, style:{text:'CD57', font:'34px "DejaVu Sans", sans-serif', fill:'#111', align:'center', verticalAlign:'middle'}});
gfx.push({type:'text', x:742, y:1288, rotation:Math.PI / 2, silent:true, z:20, style:{text:'OX40', font:'34px "DejaVu Sans", sans-serif', fill:'#111', align:'center', verticalAlign:'middle'}});
// rotated y-axis titles for bar charts
function yTitle(x, y, fs, rest) {
  gfx.push({type:'text', x:x, y:y, rotation:Math.PI / 2, silent:true, z:20, style:{
    text:'{m|% of B7-H7}{s|+}{m|' + rest + '}', align:'center', verticalAlign:'middle',
    rich:{m:{fontSize:fs, fontWeight:'bold', fontFamily:ARIAL, fill:'#000', color:'#000'}, s:{fontSize:Math.round(fs * 0.6), fontWeight:'bold', fontFamily:ARIAL, fill:'#000', color:'#000', verticalAlign:'top'}}}});
}
yTitle(852, 690, 33, ' cells');
gfx.push({type:'text', x:55, y:2388, rotation:Math.PI / 2, silent:true, z:20, style:{text:'% of B7-H7+ cells, relative', font:'bold 28px ' + ARIAL, fill:'#000', align:'center', verticalAlign:'middle'}});
gfx.push({type:'text', x:477, y:2382, rotation:Math.PI / 2, silent:true, z:20, style:{text:'% of B7-H7+ cells, relative', font:'bold 28px ' + ARIAL, fill:'#000', align:'center', verticalAlign:'middle'}});

const chart = echarts.init(document.getElementById('c'), null, {renderer:'canvas', width:1213, height:2637});
chart.setOption({
  backgroundColor:'#ffffff', animation:false,
  grid: gridOpts, xAxis: xAxes, yAxis: yAxes, series: series, graphic: gfx
});
</script></body></html>
